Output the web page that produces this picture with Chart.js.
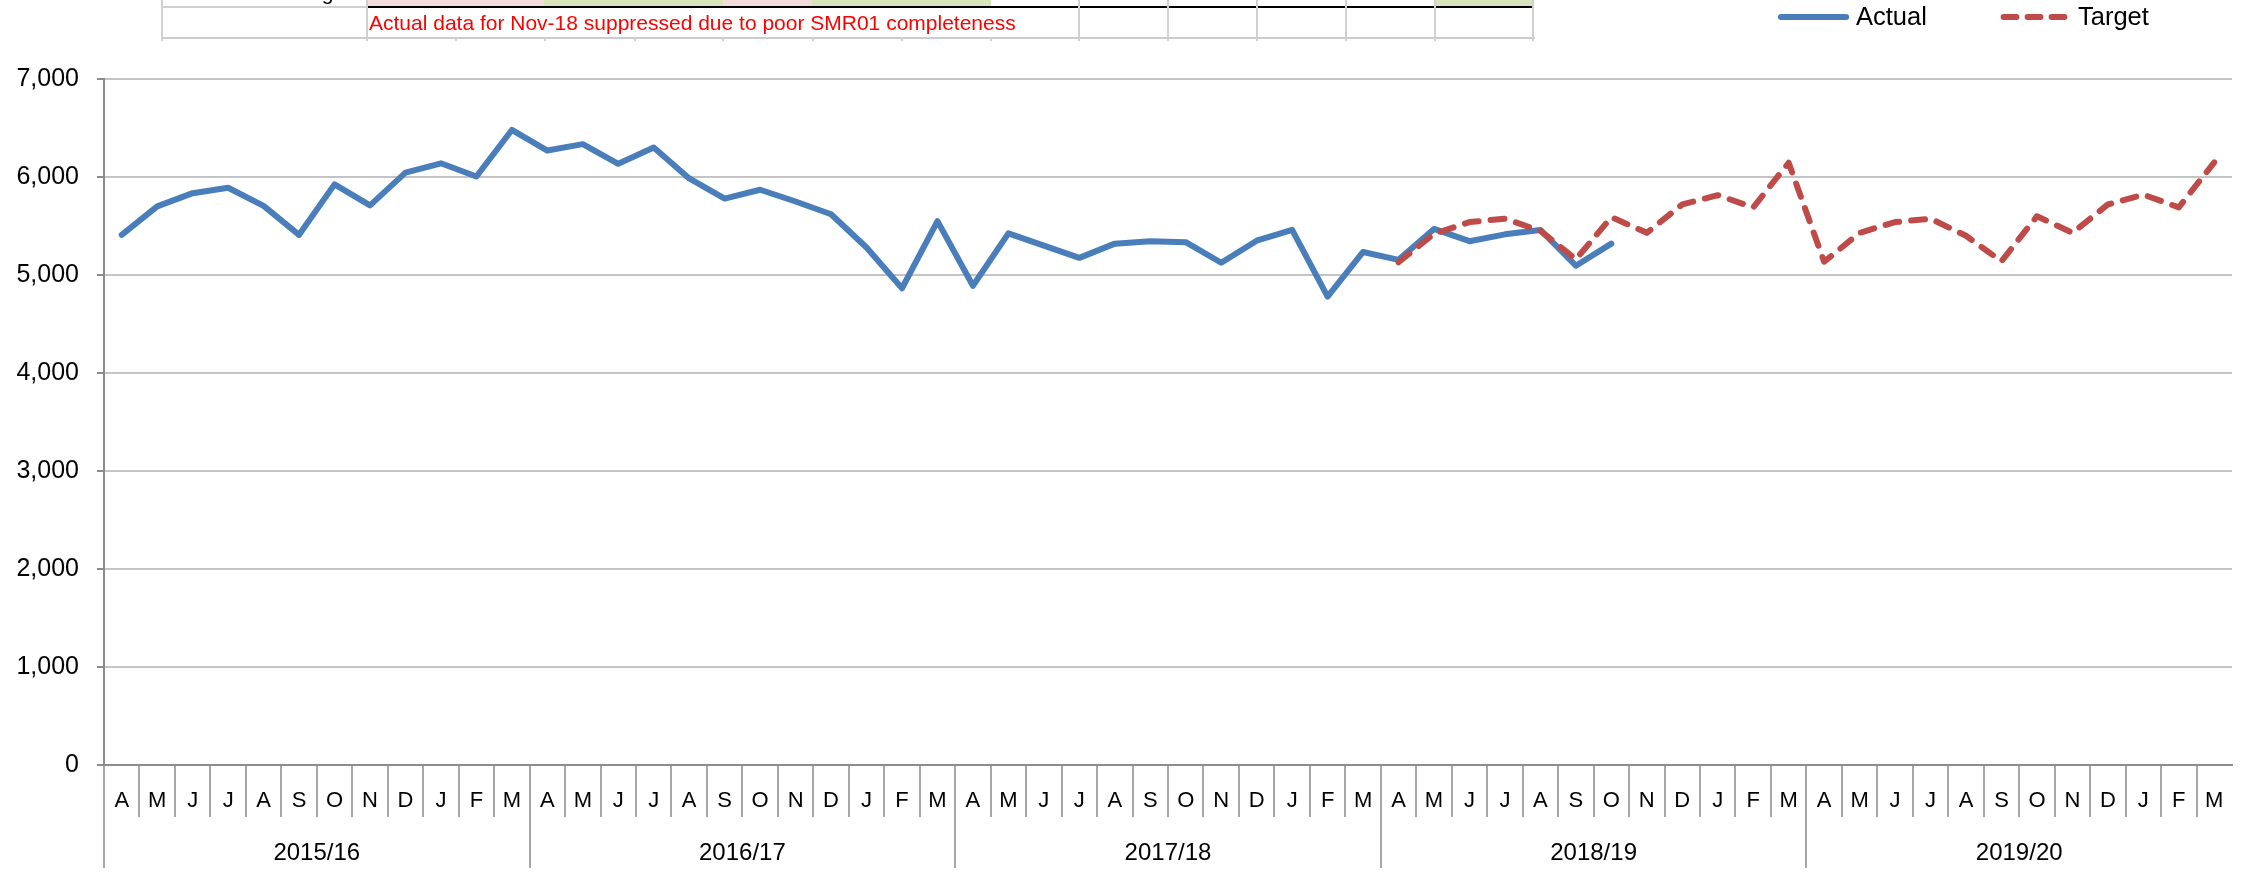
<!DOCTYPE html>
<html>
<head>
<meta charset="utf-8">
<script src="https://cdn.jsdelivr.net/npm/chart.js@4.4.1/dist/chart.umd.min.js"></script>
<style>
  html, body { margin: 0; padding: 0; background: #ffffff; }
  #wrap { position: relative; width: 2241px; height: 872px; overflow: hidden; font-family: "Liberation Sans", Arial, sans-serif; }
  #chartBox { position: absolute; left: 0; top: 0; width: 2241px; height: 872px; }
  .a { position: absolute; }
  .vl { position: absolute; width: 2px; background: #D0D0D0; }
  .lgText { position: absolute; top: 4px; font-size: 25.5px; line-height: 25px; color: #000; white-space: nowrap; }
</style>
</head>
<body>
<div id="wrap">
  <div id="chartBox"><canvas id="c"></canvas></div>

  <!-- fragment of the data table above the chart -->
  <div id="table">
    <div class="a" style="left:163px;top:0;width:188px;height:6px;overflow:hidden;">
      <div style="position:absolute;right:0;top:-17px;font-size:21px;line-height:20px;white-space:nowrap;color:#000;">% of Target</div>
    </div>
    <div class="a" style="left:367px;top:0;width:177px;height:6px;background:#F2DCDB;"></div>
    <div class="a" style="left:544px;top:0;width:179px;height:6px;background:#D8E4BC;"></div>
    <div class="a" style="left:723px;top:0;width:89px;height:6px;background:#F2DCDB;"></div>
    <div class="a" style="left:812px;top:0;width:179px;height:6px;background:#D8E4BC;"></div>
    <div class="a" style="left:1435px;top:0;width:98px;height:6px;background:#D8E4BC;"></div>
    <div class="a" style="left:161px;top:6px;width:206px;height:2px;background:#D0D0D0;"></div>
    <div class="a" style="left:366px;top:6px;width:1168px;height:2px;background:#000;"></div>
    <div class="a" style="left:161px;top:37px;width:1374px;height:2px;background:#CCCCCC;"></div>
    <div class="vl" style="left:161px;top:0;height:41px;"></div>
    <div class="vl" style="left:366px;top:0;height:41px;"></div>
    <div class="vl" style="left:1078px;top:0;height:41px;"></div>
    <div class="vl" style="left:1167px;top:0;height:41px;"></div>
    <div class="vl" style="left:1256px;top:0;height:41px;"></div>
    <div class="vl" style="left:1345px;top:0;height:41px;"></div>
    <div class="vl" style="left:1434px;top:0;height:41px;"></div>
    <div class="vl" style="left:1532px;top:0;height:41px;"></div>
    <div class="vl" style="left:455px;top:37px;height:4px;"></div>
    <div class="vl" style="left:544px;top:37px;height:4px;"></div>
    <div class="vl" style="left:634px;top:37px;height:4px;"></div>
    <div class="vl" style="left:722px;top:37px;height:4px;"></div>
    <div class="vl" style="left:812px;top:37px;height:4px;"></div>
    <div class="vl" style="left:901px;top:37px;height:4px;"></div>
    <div class="vl" style="left:990px;top:37px;height:4px;"></div>
    <div class="a" style="left:369px;top:13px;font-size:21px;line-height:20px;color:#FF0000;white-space:nowrap;">Actual data for Nov-18 suppressed due to poor SMR01 completeness</div>
  </div>

  <div id="legend"></div>
</div>

<script>
// ---------------- data ----------------
const monthLabels = [
  'A','M','J','J','A','S','O','N','D','J','F','M',
  'A','M','J','J','A','S','O','N','D','J','F','M',
  'A','M','J','J','A','S','O','N','D','J','F','M',
  'A','M','J','J','A','S','O','N','D','J','F','M',
  'A','M','J','J','A','S','O','N','D','J','F','M'
];
const yearLabels = ['2015/16', '2016/17', '2017/18', '2018/19', '2019/20'];

const actual = [
  5410, 5700, 5835, 5890, 5705, 5410, 5925, 5710, 6045, 6140, 6005, 6480,
  6270, 6335, 6135, 6300, 5985, 5780, 5870, 5750, 5620, 5280, 4865, 5550,
  4890, 5425, 5300, 5175, 5320, 5345, 5335, 5125, 5350, 5460, 4780, 5235,
  5155, 5470, 5345, 5415, 5460, 5095, 5320, null, null, null, null, null,
  null, null, null, null, null, null, null, null, null, null, null, null
];
const target = [
  null, null, null, null, null, null, null, null, null, null, null, null,
  null, null, null, null, null, null, null, null, null, null, null, null,
  null, null, null, null, null, null, null, null, null, null, null, null,
  5130, 5420, 5540, 5575, 5450, 5160, 5590, 5430, 5720, 5815, 5690, 6145,
  5135, 5430, 5540, 5575, 5400, 5140, 5600, 5430, 5720, 5820, 5690, 6150
];
const yMin = 0, yMax = 7000, yStep = 1000;

// ---------------- styling ----------------
const FONT = '"Liberation Sans", Arial, sans-serif';
const AXIS_GREY = '#8C8C8C';
const TICK_GREY = '#A6A6A6';
const GRID_GREY = '#C4C4C4';
const CLEAR = 'rgba(0,0,0,0)';

// year-row tick positions: boundaries between years and year centres
const yearTickValues = [];
yearLabels.forEach((_, k) => { yearTickValues.push(k * 12 - 0.5); yearTickValues.push(k * 12 + 5.5); });
const isYearBoundary = v => Number.isInteger((v + 0.5) / 12);

const ctx = document.getElementById('c');
const chart = new Chart(ctx, {
  type: 'line',
  data: {
    labels: monthLabels,
    datasets: [
      {
        label: 'Actual', data: actual, order: 1,
        borderColor: '#4A7EBB', backgroundColor: '#4A7EBB', borderWidth: 6,
        borderCapStyle: 'round', borderJoinStyle: 'round',
        pointRadius: 0, pointHoverRadius: 0, tension: 0, fill: false, spanGaps: false,
        xAxisID: 'x', yAxisID: 'y'
      },
      {
        label: 'Target', data: target, order: 0,
        borderColor: '#BE4B48', backgroundColor: '#BE4B48', borderWidth: 6,
        borderDash: [14, 12], borderCapStyle: 'round', borderJoinStyle: 'round',
        pointRadius: 0, pointHoverRadius: 0, tension: 0, fill: false, spanGaps: false,
        xAxisID: 'x', yAxisID: 'y'
      }
    ]
  },
  options: {
    responsive: true,
    maintainAspectRatio: false,
    animation: false,
    events: [],
    layout: { padding: { top: 79, left: 16, right: 9, bottom: 0 } },
    plugins: { legend: { display: false }, tooltip: { enabled: false }, title: { display: false } },
    scales: {
      x: {
        type: 'category', position: 'bottom', weight: 0, offset: true,
        grid: {
          offset: true, drawOnChartArea: false, drawTicks: true, tickLength: 52, lineWidth: 2,
          color: c => (c.index === undefined ? CLEAR : TICK_GREY)
        },
        border: { display: true, color: AXIS_GREY, width: 2 },
        ticks: { autoSkip: false, maxRotation: 0, minRotation: 0, padding: -29, color: '#000',
                 font: { family: FONT, size: 22 } },
        afterFit: s => { s.height = 52; }
      },
      x2: {
        type: 'linear', position: 'bottom', weight: 1, min: -0.5, max: 59.5,
        afterBuildTicks: s => { s.ticks = yearTickValues.map(v => ({ value: v })); },
        grid: {
          drawOnChartArea: false, drawTicks: true, tickLength: 51, lineWidth: 2,
          color: c => (c.tick && isYearBoundary(c.tick.value) ? TICK_GREY : CLEAR)
        },
        border: { display: false },
        ticks: {
          autoSkip: false, maxRotation: 0, minRotation: 0, padding: -29, color: '#000',
          font: { family: FONT, size: 24 },
          callback: v => { const k = (v - 5.5) / 12; return Number.isInteger(k) ? yearLabels[k] : ''; }
        },
        afterFit: s => { s.height = 55; }
      },
      y: {
        type: 'linear', position: 'left', min: yMin, max: yMax,
        grid: { color: GRID_GREY, lineWidth: 2, tickLength: 7, tickColor: AXIS_GREY, drawTicks: true },
        border: { display: true, color: AXIS_GREY, width: 2 },
        ticks: {
          stepSize: yStep, padding: 18, color: '#000', font: { family: FONT, size: 25 },
          callback: v => Number(v).toLocaleString('en-US')
        },
        afterFit: s => { s.width = 88; }
      }
    }
  }
});

// ---------------- HTML legend built from the datasets ----------------
(function buildLegend() {
  const legend = document.getElementById('legend');
  const slots = [
    { lineLeft: 1778, textLeft: 1856 },
    { lineLeft: 2000, textLeft: 2078 }
  ];
  chart.data.datasets.forEach((ds, i) => {
    const slot = slots[i];
    const svgNS = 'http://www.w3.org/2000/svg';
    const svg = document.createElementNS(svgNS, 'svg');
    svg.setAttribute('width', '72');
    svg.setAttribute('height', '12');
    svg.style.position = 'absolute';
    svg.style.left = slot.lineLeft + 'px';
    svg.style.top = '11px';
    const line = document.createElementNS(svgNS, 'line');
    const dashed = Array.isArray(ds.borderDash) && ds.borderDash.length;
    line.setAttribute('x1', dashed ? '3.5' : '2.8');
    line.setAttribute('x2', dashed ? '64.5' : '68.2');
    line.setAttribute('y1', '6');
    line.setAttribute('y2', '6');
    line.setAttribute('stroke', ds.borderColor);
    line.setAttribute('stroke-width', '5.8');
    line.setAttribute('stroke-linecap', 'round');
    if (dashed) line.setAttribute('stroke-dasharray', '13 11');
    svg.appendChild(line);
    legend.appendChild(svg);
    const t = document.createElement('div');
    t.className = 'lgText';
    t.style.left = slot.textLeft + 'px';
    t.textContent = ds.label;
    legend.appendChild(t);
  });
})();
</script>
</body>
</html>
